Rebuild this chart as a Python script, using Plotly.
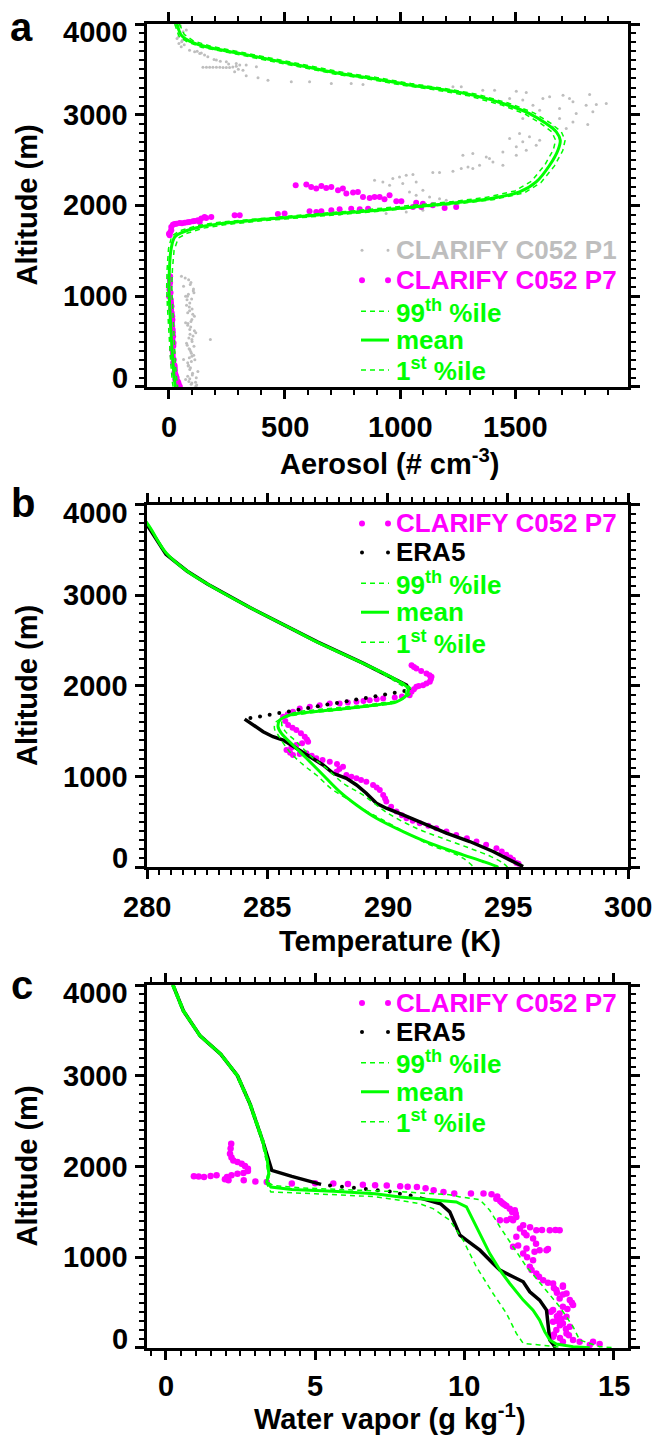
import plotly.graph_objects as go
from plotly.subplots import make_subplots

# ---------------- data: panel a (aerosol) ----------------
aer_mean = [35, 53, 89, 161, 306, 450, 594, 738, 882, 1026, 1170, 1314, 1458, 1559, 1631, 1675, 1692, 1682, 1646, 1588,
            1516, 1386, 1242, 1098, 954, 810, 666, 522, 378, 234, 133, 61, 25, 9, 2, 0, 3, 9, 18, 25, 28]
aer_mean_alt = [4000, 3878, 3812, 3749, 3676, 3602, 3529, 3455, 3400, 3334, 3282, 3216, 3113, 3013, 2903, 2811, 2719, 2609,
                2443, 2259, 2149, 2075, 2031, 1994, 1958, 1928, 1899, 1869, 1840, 1803, 1763, 1707, 1652, 1515, 1300, 1100,
                900, 600, 250, 50, 0]
aer_p99 = [45, 66, 105, 180, 325, 470, 614, 758, 902, 1046, 1190, 1334, 1478, 1580, 1652, 1697, 1713, 1703, 1667, 1608,
           1536, 1400, 1256, 1112, 968, 824, 680, 536, 392, 250, 150, 78, 40, 22, 15, 12, 15, 20, 28, 35, 38]
aer_p99_alt = [4000, 3885, 3815, 3755, 3683, 3610, 3537, 3464, 3409, 3343, 3291, 3225, 3120, 3018, 2905, 2810, 2719, 2605,
               2436, 2250, 2138, 2063, 2020, 1983, 1947, 1917, 1888, 1858, 1828, 1790, 1750, 1693, 1640, 1505, 1300, 1100,
               900, 600, 250, 50, 0]
aer_p01 = [25, 42, 75, 143, 288, 432, 576, 720, 864, 1008, 1152, 1296, 1440, 1540, 1610, 1655, 1672, 1662, 1626, 1568,
           1496, 1370, 1226, 1082, 938, 794, 650, 506, 362, 218, 118, 45, 12, -2, -8, -10, -7, -1, 8, 15, 18]
aer_p01_alt = [4000, 3870, 3808, 3742, 3669, 3595, 3521, 3447, 3392, 3326, 3274, 3208, 3106, 3008, 2900, 2812, 2719, 2612,
               2450, 2268, 2160, 2088, 2043, 2006, 1970, 1940, 1911, 1881, 1852, 1816, 1776, 1720, 1663, 1525, 1300, 1100,
               900, 600, 250, 50, 0]

p1_aer = [39, 46, 35, 43, 53, 61, 75, 50, 42, 58, 30, 38, 47, 55, 66, 89, 111, 133, 154, 205, 248, 291, 334, 378,
          122, 140, 168, 195, 222, 258, 300, 320,
          147, 162, 176, 190, 205, 220, 234, 248, 262, 276, 291, 306, 284, 334, 385, 428,
          529, 608, 702, 788, 839, 1228, 1264, 1357, 1408, 1502, 1545, 1473, 1530, 1617, 1646, 1704, 1732, 1747,
          1819, 1804, 1848, 1891, 1833, 1761, 1689, 1603, 1574, 1689, 1747, 1811, 1660, 1530, 1718,
          1516, 1559, 1530, 1588, 1502, 1545, 1603, 1473, 1444, 1502, 1271, 1314, 1372, 1401, 1444, 1343, 1314, 1386,
          1141, 1170, 1228, 1264, 1293, 889, 925, 968, 997, 1026, 1055, 954, 1011, 1069, 1040, 1098, 1069, 1127,
          1170, 1199, 939, 1026, 1098, 738, 695,
          54, 63, 72, 90, 81, 99, 90, 99, 90, 99, 81, 90, 81, 99, 116, 179, 108, 72, 108, 72, 116, 63,
          85, 95, 105, 78, 88, 100, 110, 82, 94, 104, 76, 87, 97, 112, 84, 93, 102, 118, 86, 96, 120, 80,
          70, 92, 106, 84, 98, 76, 89, 103, 95, 81, 110, 91, 86, 100, 79, 94, 107, 88, 97, 83, 125, 101, 90, 115]
p1_alt = [3952, 3896, 3841, 3786, 3749, 3915, 3933, 3980, 3860, 3820, 3990, 3970, 3900, 3805, 3770, 3712, 3694, 3676, 3657,
          3602, 3584, 3565, 3547, 3529,
          3700, 3680, 3640, 3610, 3590, 3560, 3500, 3490,
          3524, 3524, 3523, 3523, 3522, 3522, 3521, 3521, 3520, 3527, 3535, 3547, 3473, 3429, 3407, 3381,
          3363, 3363, 3345, 3345, 3334, 3308, 3308, 3271, 3271, 3260, 3245, 3179, 3161, 3179, 3197, 3216, 3179, 3142,
          3223, 3105, 3113, 3124, 3032, 3013, 3069, 3050, 3105, 2958, 2921, 2892, 2866, 2958, 2848,
          2793, 2756, 2701, 2664, 2646, 2609, 2719, 2738, 2590, 2554, 2554, 2572, 2535, 2480, 2443, 2443, 2406, 2517,
          2362, 2362, 2377, 2406, 2425, 2278, 2259, 2296, 2314, 2333, 2340, 2222, 2241, 2259, 2149, 2167, 2112, 2094,
          2075, 2057, 1910, 1928, 1947, 1899, 1910,
          1221, 1110, 1000, 926, 816, 743, 632, 522, 412, 338, 265, 191, 118, 44, 7, 522, 1037, 706, 449, 81, 596, 301,
          1180, 1150, 1060, 960, 880, 860, 780, 700, 660, 560, 480, 420, 370, 300, 240, 210, 150, 100, 60, 30, 20, 1000,
          1200, 1130, 1080, 1020, 970, 900, 840, 800, 720, 680, 620, 580, 540, 500, 460, 390, 350, 320, 280, 230, 170,
          130, 90, 50]

p7_aer = [548, 594, 615, 637, 659, 680, 702, 731, 752, 767, 796, 817, 839, 868, 889, 911, 932, 954, 983, 1005, 1069,
          1098, 1141, 1192, 1242, 1055, 1091,
          608, 637, 659, 702, 738, 788, 825, 861, 471, 500, 284, 306,
          3, 6, 10, 17, 32, 46, 68, 89, 104, 125, 140, 154, 161, 183, 133, 10, 0, 24, 56, 80, 112,
          5, 0, 9, 13, 18, 13, 18, 23, 27, 36, 5, 2, 9, 14, 16, 20, 16, 25, 30, 41,
          4, 3, 7, 8, 11, 12, 15, 14, 17, 15, 19, 17, 21, 24, 26, 28, 33, 38, 44, 47]
p7_alt = [2223, 2230, 2204, 2186, 2215, 2193, 2204, 2167, 2186, 2131, 2142, 2149, 2094, 2083, 2094, 2094, 2068, 2112, 2046,
          2046, 2031, 2020, 2002, 1972, 1983, 1983, 1983,
          1936, 1928, 1936, 1947, 1958, 1965, 1958, 1965, 1906, 1910, 1891, 1891,
          1671, 1707, 1763, 1788, 1799, 1807, 1810, 1818, 1825, 1836, 1855, 1873, 1862, 1873, 1818, 1726, 1689, 1795,
          1803, 1814, 1829,
          1147, 1000, 853, 706, 559, 412, 265, 154, 81, 26, 1221, 1074, 926, 779, 632, 485, 338, 210, 118, 44,
          1185, 1110, 1037, 960, 890, 815, 740, 670, 600, 520, 450, 375, 300, 240, 180, 140, 100, 60, 15, 5]

# ---------------- data: panel b (temperature) ----------------
t_mean = [279.7, 280.09, 280.79, 281.66, 282.53, 284.28, 286.03, 287.06, 288.98, 290.37, 290.86, 290.79, 290.37, 289.68,
          288.29, 286.9, 285.93, 285.52, 285.45, 285.59, 286.07, 286.63, 287.32, 288.01, 288.71, 289.54, 290.65, 291.76,
          293.14, 293.97, 294.53, 294.6]
t_mean_alt = [3900, 3762, 3469, 3268, 3122, 2865, 2628, 2486, 2250, 2066, 1973, 1899, 1826, 1797, 1753, 1716, 1679, 1624,
              1551, 1478, 1349, 1203, 1019, 836, 689, 543, 396, 268, 139, 66, 11, 0]
t_p99 = [279.7, 280.1, 280.8, 281.68, 282.56, 284.3, 286.05, 287.08, 289.02, 290.42, 290.95, 290.95, 290.6, 289.9, 288.5,
         287.1, 286.1, 285.7, 285.6, 285.75, 286.21, 286.8, 287.46, 288.2, 288.98, 290.0, 291.2, 292.3, 293.42, 294.3,
         294.8, 295.0]
t_p99_alt = [3900, 3762, 3469, 3268, 3122, 2865, 2628, 2486, 2248, 2064, 1980, 1920, 1850, 1818, 1775, 1740, 1705, 1655,
             1580, 1500, 1386, 1230, 1093, 920, 799, 600, 432, 320, 212, 120, 48, 0]
t_p01 = [279.7, 280.07, 280.77, 281.63, 282.5, 284.25, 286.0, 287.0, 288.94, 290.3, 290.75, 290.68, 290.2, 289.4, 288.0,
         286.6, 285.75, 285.35, 285.3, 285.45, 285.93, 286.5, 287.04, 287.7, 288.29, 289.0, 289.68, 290.8, 291.76,
         292.6, 293.14, 293.6]
t_p01_alt = [3900, 3762, 3469, 3268, 3122, 2865, 2628, 2486, 2248, 2055, 1962, 1885, 1810, 1777, 1735, 1697, 1655, 1600,
             1530, 1460, 1276, 1130, 1019, 860, 763, 640, 543, 380, 249, 170, 103, 0]

era5_t_line = [279.7, 280.0, 280.79, 281.66, 282.53, 284.28, 286.03, 287.08, 288.98, 290.37, 290.79, 290.92, None,
               284.06, 284.41, 284.83, 285.24, 285.66, 286.21, 286.9, 287.32, 287.74, 288.29, 288.71, 289.12, 289.54,
               289.95, 290.65, 291.48, 292.45, 293.42, 294.39, 295.08, 295.64]
era5_t_line_alt = [3900, 3780, 3451, 3268, 3122, 2865, 2628, 2486, 2252, 2068, 2009, 1954, None,
                   1635, 1569, 1496, 1441, 1404, 1313, 1203, 1129, 1038, 983, 909, 818, 708, 653, 579, 488, 378, 286,
                   176, 84, 11]
era5_t_dots = [284.3, 284.7, 285.1, 285.5, 285.9, 286.3, 286.7, 287.1, 287.5, 287.9, 288.3, 288.7, 289.1, 289.5, 289.9,
               290.3, 290.7]
era5_t_dots_alt = [1646, 1665, 1683, 1702, 1720, 1739, 1758, 1776, 1795, 1813, 1832, 1851, 1869, 1888, 1906, 1925, 1944]

p7_t = [291.0, 291.1, 291.2, 291.4, 291.62, 291.75, 291.83, 291.8, 291.76, 291.62, 291.48, 291.3, 291.2, 291.1, 291.0,
        290.92, 290.6, 290.3, 289.82, 289.55, 289.26, 289.0, 288.71, 288.35, 288.01, 287.6, 287.18, 286.77, 286.35,
        286.07, 285.85, 285.66, 285.75, 285.87, 286.05, 286.21, 286.4, 286.56, 286.65, 286.7, 286.45, 286.21, 286.0,
        285.8, 285.95, 286.07, 286.63, 286.35, 286.85, 287.04, 287.3, 287.6, 287.9, 288.15, 287.88, 288.0, 288.29,
        288.5, 288.71, 288.9, 289.12, 289.4, 289.55, 289.68, 289.82, 289.9, 289.95, 290.15, 290.37, 290.6, 290.79,
        291.05, 291.34, 291.7, 292.03, 292.45, 292.86, 293.3, 293.7, 294.1, 294.53, 294.75, 294.94, 295.1, 295.22,
        295.36, 295.45]
p7_t_alt = [2229, 2210, 2193, 2165, 2138, 2118, 2101, 2075, 2046, 2028, 2009, 2000, 1991, 1965, 1936,
            1899, 1885, 1872, 1863, 1853, 1844, 1835, 1826, 1817, 1808, 1808, 1789, 1771, 1753,
            1716, 1690, 1661, 1615, 1569, 1540, 1514, 1478, 1441, 1410, 1386, 1368, 1349, 1320,
            1294, 1265, 1239, 1258, 1250, 1230, 1203, 1185, 1166, 1140, 1111, 1056, 1085, 1019,
            1000, 983, 965, 946, 909, 880, 854, 799, 760, 726, 670, 616, 575, 543,
            515, 488, 460, 433, 396, 359, 322, 286, 250, 212, 175, 139, 110, 84,
            48, 40]

# ---------------- data: panel c (water vapour) ----------------
q_mean = [0.24, 0.59, 1.15, 1.84, 2.4, 2.82, 3.24, 3.4, 3.45, 3.38, 3.52, 4.22, 5.61, 7.01, 7.84, 8.95, 9.73, 10.07,
          10.24, 10.52, 10.85, 11.19, 11.52, 11.97, 12.3, 12.52, 12.69, 12.86, 13.08, 13.64, 14.2]
q_mean_alt = [4000, 3715, 3440, 3239, 3001, 2690, 2287, 2068, 1921, 1830, 1775, 1746, 1727, 1700, 1665, 1635, 1610, 1555,
              1445, 1261, 1041, 858, 711, 528, 418, 308, 180, 88, 44, 15, 3]
q_p99 = [0.28, 0.63, 1.19, 1.88, 2.44, 2.86, 3.28, 3.42, 3.48, 3.42, 3.6, 4.5, 6.0, 8.0, 9.5, 9.85, 10.52, 10.85, 11.19,
         11.63, 12.08, 12.64, 13.19, 13.64, 13.86, 14.53, 15.0]
q_p99_alt = [4000, 3715, 3440, 3239, 3001, 2690, 2287, 2068, 1921, 1830, 1790, 1765, 1745, 1720, 1690, 1665, 1635, 1518,
             1335, 1115, 895, 675, 455, 235, 88, 15, 3]
q_p01 = [0.2, 0.55, 1.11, 1.8, 2.36, 2.78, 3.2, 3.36, 3.42, 3.35, 3.45, 3.52, 5.0, 7.01, 7.84, 8.51, 8.95, 9.51, 9.96,
         10.4, 10.96, 11.41, 11.74, 11.97, 12.52, 13.16]
q_p01_alt = [4000, 3715, 3440, 3239, 3001, 2690, 2287, 2068, 1921, 1830, 1760, 1720, 1700, 1668, 1628, 1591, 1536, 1408,
             1188, 895, 601, 381, 161, 51, 33, 11]

era5_q_line = [0.24, 0.59, 1.15, 1.84, 2.4, 2.82, 3.24, 3.45, 3.55, 4.22, 5.2, None,
               8.5, 8.84, 9.2, 9.51, 9.68, 9.85, 10.07, 10.52, 10.96, 11.19, 11.63, 11.97, 12.19, 12.52, 12.75, 12.8,
               12.86, 12.99, 13.05]
era5_q_line_alt = [4000, 3715, 3440, 3239, 3001, 2690, 2287, 2068, 1958, 1892, 1804, None,
                   1655, 1628, 1590, 1500, 1371, 1243, 1188, 1078, 931, 858, 785, 730, 620, 528, 418, 235, 88, 33, 0]
era5_q_dots = [5.5, 5.9, 6.3, 6.7, 7.1, 7.5, 7.84, 8.2]
era5_q_dots_alt = [1790, 1778, 1766, 1753, 1740, 1724, 1700, 1680]

p7_q = [2.19, 2.17, 2.15, 2.2, 2.26, 2.4, 2.54, 2.65, 2.75, 2.75, 2.6, 2.4, 2.2, 2.05, 1.98, 2.1, 1.7, 1.5, 1.28, 1.1,
        0.94, 2.61, 3.0, 3.38,
        4.22, 5.0, 5.61, 6.1, 6.6, 7.01, 7.4, 7.85, 8.1, 8.41, 8.7, 8.97, 9.3, 9.66, 10.22, 10.64,
        10.91, 11.07, 11.2, 11.3, 11.41, 11.52, 11.69, 11.74, 11.72, 11.41, 11.19, 11.63, 11.97, 11.86, 12.41, 12.6,
        12.86, 13.05, 13.19, 12.08, 12.3, 11.74, 11.63, 11.8, 12.08, 12.52, 12.75, 11.97, 12.1, 12.3, 12.19, 12.25,
        12.41, 12.5, 12.64, 12.97, 13.3, 13.08, 13.42, 13.19, 13.53, 13.64, 13.3, 12.97, 13.19, 13.42, 12.97, 13.3,
        13.53, 13.08, 13.42, 12.97, 13.64, 13.3, 13.86, 14.31, 14.53, 14.2,
        13.1, 13.2, 13.0, 13.2, 13.5, 13.4, 13.6, 13.3, 13.0, 12.8, 13.1, 12.9,
        11.1, 11.25, 11.35, 11.6, 11.55, 12.2, 12.0, 12.4, 12.35, 12.8, 13.3, 13.1, 13.45, 13.25]
p7_q_alt = [2251, 2200, 2141, 2100, 2068, 2050, 2031, 2005, 1976, 1950, 1930, 1921, 1905, 1885, 1860, 1850, 1903, 1895,
            1885, 1890, 1892, 1848, 1835, 1830,
            1812, 1815, 1812, 1808, 1800, 1793, 1790, 1782, 1778, 1775, 1760, 1738, 1720, 1702, 1702, 1702,
            1694, 1646, 1620, 1591, 1565, 1536, 1518, 1445, 1480, 1408, 1408, 1408, 1353, 1316, 1298, 1300,
            1298, 1300, 1298, 1243, 1206, 1225, 1115, 1130, 1096, 1078, 1078, 1041, 1000, 968, 895, 860,
            821, 785, 748, 711, 675, 638, 601, 546, 528, 473, 455, 418, 381, 345, 290, 271,
            235, 198, 161, 125, 88, 70, 70, 70, 44, 33,
            300, 250, 150, 110, 140, 210, 500, 590, 660, 720, 350, 400,
            1670, 1605, 1578, 1500, 1425, 1330, 1270, 1150, 1060, 1090, 690, 610, 430, 320]

# ---------------- labels ----------------
panel_letters = ["a", "b", "c"]
x_titles = ["Aerosol (# cm<sup>-3</sup>)", "Temperature (K)", "Water vapor (g kg<sup>-1</sup>)"]
y_title = "Altitude (m)"
x_ranges = [[-95, 1985], [280, 300], [-0.63, 15.48]]
x_ticks = [[0, 500, 1000, 1500], [280, 285, 290, 295, 300], [0, 5, 10, 15]]
x_minor = [100, 0.5, 0.5]
y_ticks = [0, 1000, 2000, 3000, 4000]
leg_p1 = "CLARIFY C052 P1"
leg_p7 = "CLARIFY C052 P7"
leg_era5 = "ERA5"
leg_p99 = "99<sup>th</sup> %ile"
leg_mean = "mean"
leg_p01 = "1<sup>st</sup> %ile"

GRAY = "#BEBEBE"
MAG = "#FF00FF"
GRN = "#00FF00"
FONT = "Liberation Sans"

W, H = 655, 1439
ML, MR, MT, MB = 147, 27, 20, 91
PW = W - ML - MR
PH = H - MT - MB


def xp(px):
    return (px - ML) / PW


def yp(py):
    return (H - MB - py) / PH


fig = make_subplots(rows=3, cols=1)

dash = "5px,4px"

# panel a
fig.add_trace(go.Scatter(x=p1_aer, y=p1_alt, mode="markers", marker=dict(color=GRAY, size=3), showlegend=False), 1, 1)
fig.add_trace(go.Scatter(x=p7_aer, y=p7_alt, mode="markers", marker=dict(color=MAG, size=6), showlegend=False), 1, 1)
fig.add_trace(go.Scatter(x=aer_p99, y=aer_p99_alt, mode="lines", line=dict(color=GRN, width=1.5, dash=dash), showlegend=False), 1, 1)
fig.add_trace(go.Scatter(x=aer_p01, y=aer_p01_alt, mode="lines", line=dict(color=GRN, width=1.5, dash=dash), showlegend=False), 1, 1)
fig.add_trace(go.Scatter(x=aer_mean, y=aer_mean_alt, mode="lines", line=dict(color=GRN, width=3, shape="spline"), showlegend=False), 1, 1)

# panel b
fig.add_trace(go.Scatter(x=p7_t, y=p7_t_alt, mode="markers", marker=dict(color=MAG, size=6), showlegend=False), 2, 1)
fig.add_trace(go.Scatter(x=era5_t_line, y=era5_t_line_alt, mode="lines", line=dict(color="black", width=3.5), connectgaps=False, showlegend=False), 2, 1)
fig.add_trace(go.Scatter(x=era5_t_dots, y=era5_t_dots_alt, mode="markers", marker=dict(color="black", size=4), showlegend=False), 2, 1)
fig.add_trace(go.Scatter(x=t_p99, y=t_p99_alt, mode="lines", line=dict(color=GRN, width=1.5, dash=dash, shape="spline"), showlegend=False), 2, 1)
fig.add_trace(go.Scatter(x=t_p01, y=t_p01_alt, mode="lines", line=dict(color=GRN, width=1.5, dash=dash, shape="spline"), showlegend=False), 2, 1)
fig.add_trace(go.Scatter(x=t_mean, y=t_mean_alt, mode="lines", line=dict(color=GRN, width=3, shape="spline"), showlegend=False), 2, 1)

# panel c
fig.add_trace(go.Scatter(x=p7_q, y=p7_q_alt, mode="markers", marker=dict(color=MAG, size=6.5), showlegend=False), 3, 1)
fig.add_trace(go.Scatter(x=era5_q_line, y=era5_q_line_alt, mode="lines", line=dict(color="black", width=3.5), connectgaps=False, showlegend=False), 3, 1)
fig.add_trace(go.Scatter(x=era5_q_dots, y=era5_q_dots_alt, mode="markers", marker=dict(color="black", size=4), showlegend=False), 3, 1)
fig.add_trace(go.Scatter(x=q_p99, y=q_p99_alt, mode="lines", line=dict(color=GRN, width=1.5, dash=dash), showlegend=False), 3, 1)
fig.add_trace(go.Scatter(x=q_p01, y=q_p01_alt, mode="lines", line=dict(color=GRN, width=1.5, dash=dash), showlegend=False), 3, 1)
fig.add_trace(go.Scatter(x=q_mean, y=q_mean_alt, mode="lines", line=dict(color=GRN, width=3), showlegend=False), 3, 1)

common = dict(showline=True, linewidth=3, linecolor="black", mirror="allticks", ticks="outside", ticklen=9,
              tickwidth=2.5, tickcolor="black", showgrid=False, zeroline=False, showticklabels=False)

tops = [20, 502, 984]
bots = [384, 866, 1348]
annotations = []
tickfont = dict(family=FONT, size=29, color="black", weight="bold")
titlefont = dict(family=FONT, size=29, color="black", weight="bold")
label_dy = [40, 40, 38]
title_dy = [75, 74, 69]

for i in range(3):
    n = "" if i == 0 else str(i + 1)
    fig.layout["yaxis" + n].update(domain=[yp(bots[i]), yp(tops[i])], range=[0, 4000], tickvals=y_ticks,
                                   minor=dict(dtick=100, tick0=0, ticks="outside", ticklen=5, tickwidth=2, tickcolor="black", showgrid=False),
                                   **common)
    fig.layout["xaxis" + n].update(range=x_ranges[i], tickvals=x_ticks[i],
                                   minor=dict(dtick=x_minor[i], tick0=0, ticks="outside", ticklen=5, tickwidth=2, tickcolor="black", showgrid=False),
                                   **common)
    # y tick labels (end labels sit slightly inside the frame as in the original)
    for v in y_ticks:
        shift = -8 if v == 4000 else (9 if v == 0 else 0)
        annotations.append(dict(text=str(v), xref="paper", x=xp(129), xanchor="right", yref="y" + n, y=v,
                                yanchor="middle", yshift=shift, showarrow=False, font=tickfont, borderpad=0))
    for v in x_ticks[i]:
        annotations.append(dict(text=str(v), xref="x" + n, x=v, xanchor="center", yref="paper", y=yp(bots[i] + label_dy[i]),
                                yanchor="middle", showarrow=False, font=tickfont, borderpad=0))
    annotations.append(dict(text=x_titles[i], xref="paper", x=xp(390), xanchor="center", yref="paper",
                            y=yp(bots[i] + title_dy[i]), yanchor="middle", showarrow=False, font=titlefont, borderpad=0))
    annotations.append(dict(text=y_title, xref="paper", x=xp(27), xanchor="center", yref="paper",
                            y=yp((tops[i] + bots[i]) / 2), yanchor="middle", textangle=-90, showarrow=False,
                            font=titlefont, borderpad=0))

shapes = []
letter_pos = [(21, 23), (23, 500), (22, 984)]
for i, (lx, ly) in enumerate(letter_pos):
    annotations.append(dict(text=panel_letters[i], x=xp(lx), y=yp(ly), xref="paper", yref="paper", showarrow=False,
                            xanchor="center", yanchor="middle", borderpad=0,
                            font=dict(family=FONT, size=40, color="black", weight="bold")))

legfont = 26


def leg_text(txt, color, py):
    annotations.append(dict(text=txt, x=xp(395), y=yp(py), xref="paper", yref="paper", showarrow=False, borderpad=0,
                            xanchor="left", yanchor="middle", font=dict(family=FONT, size=legfont, color=color, weight="bold")))


def leg_dots(color, py, r):
    for cx in (362, 388):
        shapes.append(dict(type="circle", xref="paper", yref="paper", xsizemode="pixel", ysizemode="pixel",
                           xanchor=xp(cx), yanchor=yp(py), x0=-r, x1=r, y0=-r, y1=r,
                           fillcolor=color, line=dict(width=0)))


def leg_line(color, py, width, dsh):
    shapes.append(dict(type="line", xref="paper", yref="paper", x0=xp(361), x1=xp(389), y0=yp(py), y1=yp(py),
                       line=dict(color=color, width=width, dash=dsh)))


rows_a = [247, 277, 308, 337, 367]
leg_dots(GRAY, rows_a[0], 1.5); leg_text(leg_p1, GRAY, rows_a[0])
leg_dots(MAG, rows_a[1], 3); leg_text(leg_p7, MAG, rows_a[1])
leg_line(GRN, rows_a[2], 1.5, dash); leg_text(leg_p99, GRN, rows_a[2])
leg_line(GRN, rows_a[3], 3, "solid"); leg_text(leg_mean, GRN, rows_a[3])
leg_line(GRN, rows_a[4], 1.5, dash); leg_text(leg_p01, GRN, rows_a[4])

for rows in ([521, 550, 581, 610, 640], [1002, 1031, 1062, 1091, 1121]):
    leg_dots(MAG, rows[0], 3); leg_text(leg_p7, MAG, rows[0])
    leg_dots("black", rows[1], 2); leg_text(leg_era5, "black", rows[1])
    leg_line(GRN, rows[2], 1.5, dash); leg_text(leg_p99, GRN, rows[2])
    leg_line(GRN, rows[3], 3, "solid"); leg_text(leg_mean, GRN, rows[3])
    leg_line(GRN, rows[4], 1.5, dash); leg_text(leg_p01, GRN, rows[4])

fig.update_layout(width=W, height=H, margin=dict(l=ML, r=MR, t=MT, b=MB), plot_bgcolor="white", paper_bgcolor="white",
                  showlegend=False, annotations=annotations, shapes=shapes, font=dict(family=FONT))

fig.write_html("out.html", config={"displayModeBar": False},
               post_script="document.body.style.margin='0px';document.body.style.overflow='hidden';")
